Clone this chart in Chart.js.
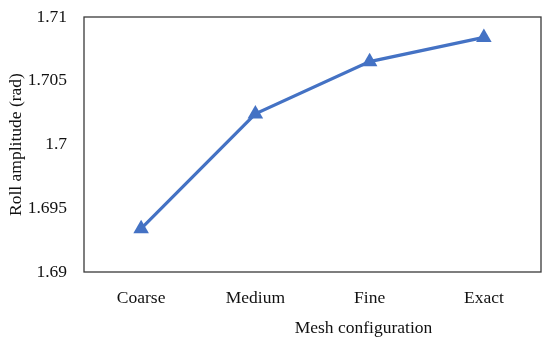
<!DOCTYPE html>
<html>
<head>
    <title>Roll amplitude vs mesh</title>
    <script src="https://cdn.jsdelivr.net/npm/chart.js"></script>
    <style>
        body { margin: 0; background: #fff; }
        #wrap { width: 550px; height: 344px; }
    </style>
</head>
<body>
    <div id="wrap"><canvas id="rollChart" width="550" height="344"></canvas></div>

    <script>
        const meshLevels = ['Coarse', 'Medium', 'Fine', 'Exact'];
        const rollAmplitude = [1.6934, 1.7024, 1.7065, 1.7084];
        const yTicks = [1.69, 1.695, 1.7, 1.705, 1.71];
        const xTitle = 'Mesh configuration';
        const yTitle = 'Roll amplitude (rad)';

        const serif = "'Palatino Linotype', 'Book Antiqua', Palatino, 'Liberation Serif', serif";

        // box round the plot area and the off-centre x title, like the Excel original
        const frame = {
            id: 'frame',
            afterDraw(chart) {
                const { ctx, chartArea: a } = chart;
                ctx.save();
                ctx.strokeStyle = '#3a3a3a';
                ctx.lineWidth = 1.3;
                ctx.strokeRect(a.left, a.top, a.right - a.left, a.bottom - a.top);
                ctx.fillStyle = '#111';
                ctx.font = '17.5px ' + serif;
                ctx.textAlign = 'center';
                ctx.textBaseline = 'middle';
                ctx.fillText(xTitle, (a.left + a.right) / 2 + 51, a.bottom + 56);
                ctx.restore();
            }
        };

        new Chart(document.getElementById('rollChart'), {
            type: 'line',
            data: {
                labels: meshLevels,
                datasets: [{
                    data: rollAmplitude,
                    borderColor: '#4472C4',
                    backgroundColor: '#4472C4',
                    borderWidth: 3.2,
                    pointStyle: 'triangle',
                    pointRadius: 9,
                    pointBorderWidth: 0,
                    fill: false,
                    tension: 0
                }]
            },
            options: {
                responsive: false,
                animation: false,
                layout: { padding: { top: 17, right: 7, bottom: 0, left: 0 } },
                plugins: { legend: { display: false }, tooltip: { enabled: false } },
                scales: {
                    x: {
                        offset: true,
                        afterFit: s => { s.height = 72; s.paddingLeft = 0; s.paddingRight = 0; },
                        grid: { display: false, drawTicks: false },
                        border: { display: false },
                        ticks: { color: '#111', font: { family: serif, size: 17.5 }, padding: 16 }
                    },
                    y: {
                        min: 1.69,
                        max: 1.71,
                        afterBuildTicks: s => { s.ticks = yTicks.map(v => ({ value: v })); },
                        afterFit: s => { s.width = 84; s.paddingTop = 0; s.paddingBottom = 0; },
                        grid: { display: false, drawTicks: false },
                        border: { display: false },
                        ticks: {
                            color: '#111',
                            font: { family: serif, size: 17.5 },
                            padding: 17,
                            callback: v => String(Number(v.toFixed(3)))
                        },
                        title: {
                            display: true,
                            text: yTitle,
                            color: '#111',
                            font: { family: serif, size: 17.5 },
                            padding: { top: 6, bottom: 0 }
                        }
                    }
                }
            },
            plugins: [frame]
        });
    </script>
</body>
</html>
